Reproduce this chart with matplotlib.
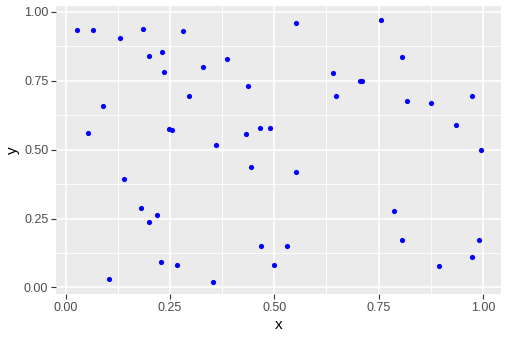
import matplotlib
matplotlib.use("Agg")
import matplotlib.pyplot as plt
import numpy as np

x = [0.026, 0.066, 0.131, 0.186, 0.200, 0.231, 0.236, 0.282, 0.330, 0.387, 0.438,
     0.054, 0.090, 0.296, 0.248, 0.256, 0.361, 0.433, 0.465, 0.490,
     0.553, 0.756, 0.807, 0.641, 0.705, 0.711, 0.648, 0.819, 0.876, 0.974, 0.936, 0.996,
     0.445, 0.140, 0.181, 0.200, 0.220, 0.469, 0.229, 0.267, 0.105, 0.354,
     0.553, 0.788, 0.807, 0.991, 0.974, 0.895, 0.531, 0.500]
y = [0.933, 0.933, 0.903, 0.936, 0.838, 0.853, 0.780, 0.929, 0.798, 0.827, 0.729,
     0.559, 0.657, 0.693, 0.573, 0.570, 0.515, 0.555, 0.577, 0.577,
     0.958, 0.969, 0.835, 0.776, 0.747, 0.747, 0.693, 0.675, 0.668, 0.693, 0.588, 0.497,
     0.435, 0.395, 0.287, 0.239, 0.261, 0.149, 0.094, 0.080, 0.029, 0.018,
     0.417, 0.279, 0.171, 0.171, 0.112, 0.076, 0.149, 0.080]
ticks = [0.00, 0.25, 0.50, 0.75, 1.00]
tick_labels = ["0.00", "0.25", "0.50", "0.75", "1.00"]

plt.rcParams['font.family'] = ['Liberation Sans', 'DejaVu Sans']
fig = plt.figure(figsize=(5.09, 3.40), dpi=100)
ax = fig.add_axes([0.110, 0.134, 0.874, 0.847])
ax.set_facecolor('#EBEBEB')
for s in ax.spines.values():
    s.set_visible(False)

ax.set_xlim(-0.0232, 1.0431)
ax.set_ylim(-0.0254, 1.019)
ax.set_xticks(ticks)
ax.set_xticklabels(tick_labels)
ax.set_yticks(ticks)
ax.set_yticklabels(tick_labels)
ax.set_xticks([0.125, 0.375, 0.625, 0.875], minor=True)
ax.set_yticks([0.125, 0.375, 0.625, 0.875], minor=True)
ax.grid(which='major', color='white', lw=1.2)
ax.grid(which='minor', color='white', lw=0.6)
ax.set_axisbelow(True)
ax.tick_params(which='major', length=3.5, width=0.8, color='#333333',
               labelcolor='#4D4D4D', labelsize=9, pad=2)
ax.tick_params(which='minor', length=0)

ax.scatter(x, y, s=14, color='#0000FF', linewidths=0, zorder=3)
ax.set_xlabel('x', fontsize=11, color='black', labelpad=3)
ax.set_ylabel('y', fontsize=11, color='black', labelpad=3)

fig.savefig('out.png', dpi=100)
